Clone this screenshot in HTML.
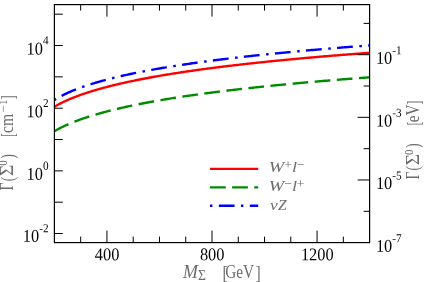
<!DOCTYPE html><html><head><meta charset="utf-8"><style>html,body{margin:0;padding:0;background:#fff}svg{display:block}</style></head><body><svg width="424" height="282" viewBox="0 0 424 282">
<rect width="424" height="282" fill="#fff"/>
<defs><clipPath id="c"><rect x="54.40" y="4.60" width="315.20" height="238.00"/></clipPath></defs>
<g clip-path="url(#c)" fill="none" stroke-width="2.4">
<path d="M54.40,106.72 L55.71,105.96 L57.03,105.22 L58.34,104.51 L59.65,103.82 L60.97,103.16 L62.28,102.51 L63.59,101.88 L64.91,101.26 L66.22,100.66 L67.53,100.08 L68.85,99.51 L70.16,98.95 L71.47,98.41 L72.79,97.88 L74.10,97.36 L75.41,96.85 L76.73,96.35 L78.04,95.86 L79.35,95.38 L80.67,94.91 L81.98,94.45 L83.29,93.99 L84.61,93.55 L85.92,93.11 L87.23,92.68 L88.55,92.25 L89.86,91.84 L91.17,91.43 L92.49,91.02 L93.80,90.62 L95.11,90.23 L96.43,89.85 L97.74,89.46 L99.05,89.09 L100.37,88.72 L101.68,88.36 L102.99,88.00 L104.31,87.64 L105.62,87.29 L106.93,86.95 L108.25,86.60 L109.56,86.27 L110.87,85.94 L112.19,85.61 L113.50,85.28 L114.81,84.96 L116.13,84.65 L117.44,84.33 L118.75,84.02 L120.07,83.72 L121.38,83.41 L122.69,83.12 L124.01,82.82 L125.32,82.53 L126.63,82.24 L127.95,81.95 L129.26,81.67 L130.57,81.39 L131.89,81.11 L133.20,80.84 L134.51,80.57 L135.83,80.30 L137.14,80.03 L138.45,79.77 L139.77,79.50 L141.08,79.25 L142.39,78.99 L143.71,78.74 L145.02,78.48 L146.33,78.24 L147.65,77.99 L148.96,77.74 L150.27,77.50 L151.59,77.26 L152.90,77.02 L154.21,76.79 L155.53,76.55 L156.84,76.32 L158.15,76.09 L159.47,75.86 L160.78,75.64 L162.09,75.41 L163.41,75.19 L164.72,74.97 L166.03,74.75 L167.35,74.53 L168.66,74.32 L169.97,74.10 L171.29,73.89 L172.60,73.68 L173.91,73.47 L175.23,73.27 L176.54,73.06 L177.85,72.86 L179.17,72.65 L180.48,72.45 L181.79,72.25 L183.11,72.06 L184.42,71.86 L185.73,71.66 L187.05,71.47 L188.36,71.28 L189.67,71.09 L190.99,70.90 L192.30,70.71 L193.61,70.52 L194.93,70.34 L196.24,70.15 L197.55,69.97 L198.87,69.78 L200.18,69.60 L201.49,69.42 L202.81,69.25 L204.12,69.07 L205.43,68.89 L206.75,68.72 L208.06,68.54 L209.37,68.37 L210.69,68.20 L212.00,68.03 L213.31,67.86 L214.63,67.69 L215.94,67.52 L217.25,67.36 L218.57,67.19 L219.88,67.03 L221.19,66.86 L222.51,66.70 L223.82,66.54 L225.13,66.38 L226.45,66.22 L227.76,66.06 L229.07,65.90 L230.39,65.74 L231.70,65.59 L233.01,65.43 L234.33,65.28 L235.64,65.13 L236.95,64.97 L238.27,64.82 L239.58,64.67 L240.89,64.52 L242.21,64.37 L243.52,64.22 L244.83,64.08 L246.15,63.93 L247.46,63.78 L248.77,63.64 L250.09,63.49 L251.40,63.35 L252.71,63.21 L254.03,63.07 L255.34,62.92 L256.65,62.78 L257.97,62.64 L259.28,62.50 L260.59,62.37 L261.91,62.23 L263.22,62.09 L264.53,61.96 L265.85,61.82 L267.16,61.68 L268.47,61.55 L269.79,61.42 L271.10,61.28 L272.41,61.15 L273.73,61.02 L275.04,60.89 L276.35,60.76 L277.67,60.63 L278.98,60.50 L280.29,60.37 L281.61,60.24 L282.92,60.11 L284.23,59.99 L285.55,59.86 L286.86,59.74 L288.17,59.61 L289.49,59.49 L290.80,59.36 L292.11,59.24 L293.43,59.12 L294.74,58.99 L296.05,58.87 L297.37,58.75 L298.68,58.63 L299.99,58.51 L301.31,58.39 L302.62,58.27 L303.93,58.15 L305.25,58.03 L306.56,57.92 L307.87,57.80 L309.19,57.68 L310.50,57.57 L311.81,57.45 L313.13,57.34 L314.44,57.22 L315.75,57.11 L317.07,56.99 L318.38,56.88 L319.69,56.77 L321.01,56.66 L322.32,56.54 L323.63,56.43 L324.95,56.32 L326.26,56.21 L327.57,56.10 L328.89,55.99 L330.20,55.88 L331.51,55.78 L332.83,55.67 L334.14,55.56 L335.45,55.45 L336.77,55.34 L338.08,55.24 L339.39,55.13 L340.71,55.03 L342.02,54.92 L343.33,54.82 L344.65,54.71 L345.96,54.61 L347.27,54.50 L348.59,54.40 L349.90,54.30 L351.21,54.20 L352.53,54.09 L353.84,53.99 L355.15,53.89 L356.47,53.79 L357.78,53.69 L359.09,53.59 L360.41,53.49 L361.72,53.39 L363.03,53.29 L364.35,53.19 L365.66,53.09 L366.97,53.00 L368.29,52.90 L369.60,52.80" stroke="#ff0000"/>
<path d="M54.40,131.22 L55.71,130.46 L57.03,129.72 L58.34,129.01 L59.65,128.32 L60.97,127.66 L62.28,127.01 L63.59,126.38 L64.91,125.76 L66.22,125.16 L67.53,124.58 L68.85,124.01 L70.16,123.45 L71.47,122.91 L72.79,122.38 L74.10,121.86 L75.41,121.35 L76.73,120.85 L78.04,120.36 L79.35,119.88 L80.67,119.41 L81.98,118.95 L83.29,118.49 L84.61,118.05 L85.92,117.61 L87.23,117.18 L88.55,116.75 L89.86,116.34 L91.17,115.93 L92.49,115.52 L93.80,115.12 L95.11,114.73 L96.43,114.35 L97.74,113.96 L99.05,113.59 L100.37,113.22 L101.68,112.86 L102.99,112.50 L104.31,112.14 L105.62,111.79 L106.93,111.45 L108.25,111.10 L109.56,110.77 L110.87,110.44 L112.19,110.11 L113.50,109.78 L114.81,109.46 L116.13,109.15 L117.44,108.83 L118.75,108.52 L120.07,108.22 L121.38,107.91 L122.69,107.62 L124.01,107.32 L125.32,107.03 L126.63,106.74 L127.95,106.45 L129.26,106.17 L130.57,105.89 L131.89,105.61 L133.20,105.34 L134.51,105.07 L135.83,104.80 L137.14,104.53 L138.45,104.27 L139.77,104.00 L141.08,103.75 L142.39,103.49 L143.71,103.24 L145.02,102.98 L146.33,102.74 L147.65,102.49 L148.96,102.24 L150.27,102.00 L151.59,101.76 L152.90,101.52 L154.21,101.29 L155.53,101.05 L156.84,100.82 L158.15,100.59 L159.47,100.36 L160.78,100.14 L162.09,99.91 L163.41,99.69 L164.72,99.47 L166.03,99.25 L167.35,99.03 L168.66,98.82 L169.97,98.60 L171.29,98.39 L172.60,98.18 L173.91,97.97 L175.23,97.77 L176.54,97.56 L177.85,97.36 L179.17,97.15 L180.48,96.95 L181.79,96.75 L183.11,96.56 L184.42,96.36 L185.73,96.16 L187.05,95.97 L188.36,95.78 L189.67,95.59 L190.99,95.40 L192.30,95.21 L193.61,95.02 L194.93,94.84 L196.24,94.65 L197.55,94.47 L198.87,94.28 L200.18,94.10 L201.49,93.92 L202.81,93.75 L204.12,93.57 L205.43,93.39 L206.75,93.22 L208.06,93.04 L209.37,92.87 L210.69,92.70 L212.00,92.53 L213.31,92.36 L214.63,92.19 L215.94,92.02 L217.25,91.86 L218.57,91.69 L219.88,91.53 L221.19,91.36 L222.51,91.20 L223.82,91.04 L225.13,90.88 L226.45,90.72 L227.76,90.56 L229.07,90.40 L230.39,90.24 L231.70,90.09 L233.01,89.93 L234.33,89.78 L235.64,89.63 L236.95,89.47 L238.27,89.32 L239.58,89.17 L240.89,89.02 L242.21,88.87 L243.52,88.72 L244.83,88.58 L246.15,88.43 L247.46,88.28 L248.77,88.14 L250.09,87.99 L251.40,87.85 L252.71,87.71 L254.03,87.57 L255.34,87.42 L256.65,87.28 L257.97,87.14 L259.28,87.00 L260.59,86.87 L261.91,86.73 L263.22,86.59 L264.53,86.46 L265.85,86.32 L267.16,86.18 L268.47,86.05 L269.79,85.92 L271.10,85.78 L272.41,85.65 L273.73,85.52 L275.04,85.39 L276.35,85.26 L277.67,85.13 L278.98,85.00 L280.29,84.87 L281.61,84.74 L282.92,84.61 L284.23,84.49 L285.55,84.36 L286.86,84.24 L288.17,84.11 L289.49,83.99 L290.80,83.86 L292.11,83.74 L293.43,83.62 L294.74,83.49 L296.05,83.37 L297.37,83.25 L298.68,83.13 L299.99,83.01 L301.31,82.89 L302.62,82.77 L303.93,82.65 L305.25,82.53 L306.56,82.42 L307.87,82.30 L309.19,82.18 L310.50,82.07 L311.81,81.95 L313.13,81.84 L314.44,81.72 L315.75,81.61 L317.07,81.49 L318.38,81.38 L319.69,81.27 L321.01,81.16 L322.32,81.04 L323.63,80.93 L324.95,80.82 L326.26,80.71 L327.57,80.60 L328.89,80.49 L330.20,80.38 L331.51,80.28 L332.83,80.17 L334.14,80.06 L335.45,79.95 L336.77,79.84 L338.08,79.74 L339.39,79.63 L340.71,79.53 L342.02,79.42 L343.33,79.32 L344.65,79.21 L345.96,79.11 L347.27,79.00 L348.59,78.90 L349.90,78.80 L351.21,78.70 L352.53,78.59 L353.84,78.49 L355.15,78.39 L356.47,78.29 L357.78,78.19 L359.09,78.09 L360.41,77.99 L361.72,77.89 L363.03,77.79 L364.35,77.69 L365.66,77.59 L366.97,77.50 L368.29,77.40 L369.60,77.30" stroke="#008b00" stroke-dasharray="15.7 6.5" stroke-dashoffset="0"/>
<path d="M54.40,99.95 L55.71,99.13 L57.03,98.34 L58.34,97.58 L59.65,96.85 L60.97,96.15 L62.28,95.47 L63.59,94.81 L64.91,94.17 L66.22,93.55 L67.53,92.94 L68.85,92.35 L70.16,91.78 L71.47,91.22 L72.79,90.67 L74.10,90.14 L75.41,89.62 L76.73,89.11 L78.04,88.61 L79.35,88.12 L80.67,87.64 L81.98,87.17 L83.29,86.71 L84.61,86.25 L85.92,85.81 L87.23,85.37 L88.55,84.94 L89.86,84.52 L91.17,84.10 L92.49,83.70 L93.80,83.29 L95.11,82.90 L96.43,82.51 L97.74,82.12 L99.05,81.75 L100.37,81.37 L101.68,81.01 L102.99,80.64 L104.31,80.29 L105.62,79.93 L106.93,79.59 L108.25,79.24 L109.56,78.91 L110.87,78.57 L112.19,78.24 L113.50,77.92 L114.81,77.59 L116.13,77.28 L117.44,76.96 L118.75,76.65 L120.07,76.34 L121.38,76.04 L122.69,75.74 L124.01,75.44 L125.32,75.15 L126.63,74.86 L127.95,74.57 L129.26,74.29 L130.57,74.01 L131.89,73.73 L133.20,73.45 L134.51,73.18 L135.83,72.91 L137.14,72.65 L138.45,72.38 L139.77,72.12 L141.08,71.86 L142.39,71.60 L143.71,71.35 L145.02,71.10 L146.33,70.85 L147.65,70.60 L148.96,70.36 L150.27,70.11 L151.59,69.87 L152.90,69.63 L154.21,69.40 L155.53,69.16 L156.84,68.93 L158.15,68.70 L159.47,68.47 L160.78,68.25 L162.09,68.02 L163.41,67.80 L164.72,67.58 L166.03,67.36 L167.35,67.14 L168.66,66.92 L169.97,66.71 L171.29,66.50 L172.60,66.29 L173.91,66.08 L175.23,65.87 L176.54,65.67 L177.85,65.46 L179.17,65.26 L180.48,65.06 L181.79,64.86 L183.11,64.66 L184.42,64.46 L185.73,64.27 L187.05,64.07 L188.36,63.88 L189.67,63.69 L190.99,63.50 L192.30,63.31 L193.61,63.12 L194.93,62.94 L196.24,62.75 L197.55,62.57 L198.87,62.39 L200.18,62.21 L201.49,62.03 L202.81,61.85 L204.12,61.67 L205.43,61.50 L206.75,61.32 L208.06,61.15 L209.37,60.97 L210.69,60.80 L212.00,60.63 L213.31,60.46 L214.63,60.29 L215.94,60.12 L217.25,59.96 L218.57,59.79 L219.88,59.63 L221.19,59.46 L222.51,59.30 L223.82,59.14 L225.13,58.98 L226.45,58.82 L227.76,58.66 L229.07,58.50 L230.39,58.35 L231.70,58.19 L233.01,58.04 L234.33,57.88 L235.64,57.73 L236.95,57.58 L238.27,57.42 L239.58,57.27 L240.89,57.12 L242.21,56.97 L243.52,56.83 L244.83,56.68 L246.15,56.53 L247.46,56.39 L248.77,56.24 L250.09,56.10 L251.40,55.95 L252.71,55.81 L254.03,55.67 L255.34,55.53 L256.65,55.39 L257.97,55.25 L259.28,55.11 L260.59,54.97 L261.91,54.83 L263.22,54.69 L264.53,54.56 L265.85,54.42 L267.16,54.29 L268.47,54.15 L269.79,54.02 L271.10,53.88 L272.41,53.75 L273.73,53.62 L275.04,53.49 L276.35,53.36 L277.67,53.23 L278.98,53.10 L280.29,52.97 L281.61,52.84 L282.92,52.72 L284.23,52.59 L285.55,52.46 L286.86,52.34 L288.17,52.21 L289.49,52.09 L290.80,51.96 L292.11,51.84 L293.43,51.72 L294.74,51.59 L296.05,51.47 L297.37,51.35 L298.68,51.23 L299.99,51.11 L301.31,50.99 L302.62,50.87 L303.93,50.75 L305.25,50.63 L306.56,50.52 L307.87,50.40 L309.19,50.28 L310.50,50.17 L311.81,50.05 L313.13,49.94 L314.44,49.82 L315.75,49.71 L317.07,49.59 L318.38,49.48 L319.69,49.37 L321.01,49.26 L322.32,49.15 L323.63,49.03 L324.95,48.92 L326.26,48.81 L327.57,48.70 L328.89,48.59 L330.20,48.48 L331.51,48.38 L332.83,48.27 L334.14,48.16 L335.45,48.05 L336.77,47.95 L338.08,47.84 L339.39,47.73 L340.71,47.63 L342.02,47.52 L343.33,47.42 L344.65,47.31 L345.96,47.21 L347.27,47.10 L348.59,47.00 L349.90,46.90 L351.21,46.80 L352.53,46.69 L353.84,46.59 L355.15,46.49 L356.47,46.39 L357.78,46.29 L359.09,46.19 L360.41,46.09 L361.72,45.99 L363.03,45.89 L364.35,45.79 L365.66,45.69 L366.97,45.60 L368.29,45.50 L369.60,45.40" stroke="#0000ff" stroke-dasharray="2.6 6.3 15.8 6.5" stroke-dashoffset="0.6"/>
</g>
<path d="M80.67 242.60V236.60M80.67 4.60V10.60M106.93 242.60V230.60M106.93 4.60V16.60M133.20 242.60V236.60M133.20 4.60V10.60M159.47 242.60V236.60M159.47 4.60V10.60M185.73 242.60V236.60M185.73 4.60V10.60M212.00 242.60V230.60M212.00 4.60V16.60M238.27 242.60V236.60M238.27 4.60V10.60M264.53 242.60V236.60M264.53 4.60V10.60M290.80 242.60V236.60M290.80 4.60V10.60M317.07 242.60V230.60M317.07 4.60V16.60M343.33 242.60V236.60M343.33 4.60V10.60M54.40 233.51H62.80M54.40 202.18H62.80M54.40 170.85H62.80M54.40 139.52H62.80M54.40 108.19H62.80M54.40 76.86H62.80M54.40 45.53H62.80M54.40 14.20H62.80M369.60 211.30H363.60M369.60 179.98H357.60M369.60 148.66H363.60M369.60 117.34H357.60M369.60 86.02H363.60M369.60 54.70H357.60M369.60 23.38H363.60" stroke="#000" stroke-width="1.00" fill="none"/>
<rect x="54.40" y="4.60" width="315.20" height="238.00" fill="none" stroke="#000" stroke-width="1.20"/>
<g fill="none" stroke-width="2.4">
<path d="M210 168.85H258.2" stroke="#ff0000"/>
<path d="M210 187.35H258.2" stroke="#008b00" stroke-dasharray="15.8 6.3"/>
<path d="M210 205.75H258.2" stroke="#0000ff" stroke-dasharray="2.4 6.45 15.7 6.45"/>
</g>
<g font-family="Liberation Serif, serif" font-size="17.9" fill="#000" style="opacity:0.999">
<text transform="translate(107.13,260.3) rotate(0.03) scale(0.915,1.000)" text-anchor="middle">400</text>
<text transform="translate(212.20,260.3) rotate(0.03) scale(0.915,1.000)" text-anchor="middle">800</text>
<text transform="translate(317.27,260.3) rotate(0.03) scale(0.915,1.000)" text-anchor="middle">1200</text>
<text transform="translate(48.5,54.53) rotate(0.03) scale(0.915,1.000)" text-anchor="end">10<tspan font-size="12.3" dy="-10.2">4</tspan></text>
<text transform="translate(48.5,117.19) rotate(0.03) scale(0.915,1.000)" text-anchor="end">10<tspan font-size="12.3" dy="-10.2">2</tspan></text>
<text transform="translate(48.5,179.85) rotate(0.03) scale(0.915,1.000)" text-anchor="end">10<tspan font-size="12.3" dy="-10.2">0</tspan></text>
<text transform="translate(48.5,241.71) rotate(0.03) scale(0.915,1.000)" text-anchor="end">10<tspan font-size="12.3" dy="-9.4">-2</tspan></text>
<text transform="translate(375.9,63.80) rotate(0.03) scale(0.915,1.000)">10<tspan font-size="12.3" dy="-9.6">-1</tspan></text>
<text transform="translate(375.9,126.44) rotate(0.03) scale(0.915,1.000)">10<tspan font-size="12.3" dy="-9.6">-3</tspan></text>
<text transform="translate(375.9,189.08) rotate(0.03) scale(0.915,1.000)">10<tspan font-size="12.3" dy="-9.6">-5</tspan></text>
<text transform="translate(375.9,251.72) rotate(0.03) scale(0.915,1.000)">10<tspan font-size="12.3" dy="-9.6">-7</tspan></text>
</g>
<g font-family="Liberation Serif, serif" fill="#6c6c6c" style="opacity:0.999">
<text transform="translate(268.70,172.00) scale(1.330,1.000)" font-size="14.00" font-style="italic">W</text>
<text transform="translate(284.20,169.40) scale(1.000,1.000)" font-size="13.50">+</text>
<text transform="translate(292.00,172.00) scale(1.300,1.000)" font-size="14.00" font-style="italic">l</text>
<text transform="translate(296.80,169.40) scale(1.000,1.000)" font-size="13.50">−</text>
<text transform="translate(268.70,190.90) scale(1.330,1.000)" font-size="14.00" font-style="italic">W</text>
<text transform="translate(284.20,188.30) scale(1.000,1.000)" font-size="13.50">−</text>
<text transform="translate(292.00,190.90) scale(1.300,1.000)" font-size="14.00" font-style="italic">l</text>
<text transform="translate(296.80,188.30) scale(1.000,1.000)" font-size="13.50">+</text>
<text transform="translate(270.00,209.60) scale(1.250,1.000)" font-size="14.00" font-style="italic">ν</text>
<text transform="translate(278.00,209.60) scale(1.100,1.000)" font-size="14.00" font-style="italic">Z</text>
<text transform="translate(183.00,277.80) scale(1.030,1.110)" font-size="17.40" font-style="italic">M</text>
<text transform="translate(198.00,280.40) scale(1.060,1.080)" font-size="13.00">Σ</text>
<text transform="translate(222.40,278.64) scale(0.900,1.090)" font-size="17.40">[</text>
<text transform="translate(225.20,277.80) scale(0.875,1.090)" font-size="17.40">GeV</text>
<text transform="translate(255.60,278.64) scale(0.900,1.090)" font-size="17.40">]</text>
<text transform="translate(12.90,190.40) rotate(-90) translate(0,0.00) scale(0.800,1.050)" font-size="17.40">Γ</text>
<text transform="translate(12.90,181.20) rotate(-90) translate(0,0.60) scale(0.750,1.100)" font-size="17.40">(</text>
<text transform="translate(12.90,176.00) rotate(-90) translate(0,0.00) scale(1.120,1.050)" font-size="17.40">Σ</text>
<text transform="translate(7.30,165.80) rotate(-90) translate(0,0.00) scale(0.920,1.000)" font-size="12.00">0</text>
<text transform="translate(12.90,158.50) rotate(-90) translate(0,0.60) scale(0.750,1.100)" font-size="17.40">)</text>
<text transform="translate(12.90,137.00) rotate(-90) translate(0,0.94) scale(0.700,1.090)" font-size="17.40">[</text>
<text transform="translate(12.90,133.00) rotate(-90) translate(0,0.00) scale(0.900,1.050)" font-size="17.40">cm</text>
<text transform="translate(7.10,112.60) rotate(-90) translate(0,0.00) scale(1.100,1.000)" font-size="12.00">−</text>
<text transform="translate(7.10,105.00) rotate(-90) translate(0,0.00) scale(0.900,1.000)" font-size="12.00">1</text>
<text transform="translate(12.90,99.40) rotate(-90) translate(0,0.94) scale(0.700,1.090)" font-size="17.40">]</text>
<text transform="translate(418.60,179.60) rotate(-90) translate(0,0.00) scale(0.800,1.050)" font-size="17.40">Γ</text>
<text transform="translate(418.60,170.40) rotate(-90) translate(0,0.60) scale(0.750,1.100)" font-size="17.40">(</text>
<text transform="translate(418.60,165.20) rotate(-90) translate(0,0.00) scale(1.120,1.050)" font-size="17.40">Σ</text>
<text transform="translate(413.00,155.00) rotate(-90) translate(0,0.00) scale(0.920,1.000)" font-size="12.00">0</text>
<text transform="translate(418.60,147.70) rotate(-90) translate(0,0.60) scale(0.750,1.100)" font-size="17.40">)</text>
<text transform="translate(418.60,125.60) rotate(-90) translate(0,0.94) scale(0.700,1.090)" font-size="17.40">[</text>
<text transform="translate(418.60,122.30) rotate(-90) translate(0,0.00) scale(0.880,1.050)" font-size="17.40">eV</text>
<text transform="translate(418.60,104.80) rotate(-90) translate(0,0.94) scale(0.700,1.090)" font-size="17.40">]</text>
</g>
</svg></body></html>
